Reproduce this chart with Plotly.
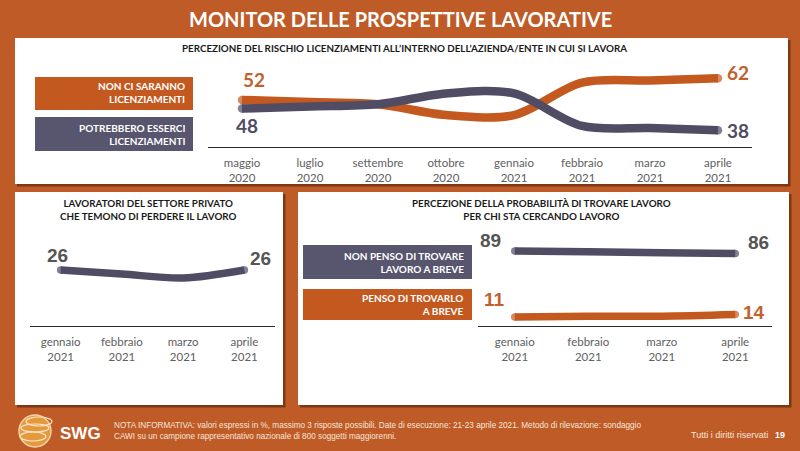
import plotly.graph_objects as go

W, H = 800, 451
ORANGE_BG = "#BE5B27"
ORANGE = "#C4591F"
GRAY = "#4F4C64"
GRAYBOX = "#58556E"
TXT = "#606060"
FONT = "Lato"

# ---------------- data ----------------
months_top = ["maggio<br>2020", "luglio<br>2020", "settembre<br>2020", "ottobre<br>2020",
              "gennaio<br>2021", "febbraio<br>2021", "marzo<br>2021", "aprile<br>2021"]
non_ci_saranno = [52, 51, 50, 45, 45, 60, 61, 62]
potrebbero_esserci = [48, 49, 50, 55, 55, 40, 39, 38]

months_bottom = ["gennaio<br>2021", "febbraio<br>2021", "marzo<br>2021", "aprile<br>2021"]
privati_temono = [26, 25, 24, 26]

non_penso = [89, 88, 87, 86]
penso = [11, 12, 12, 14]

# ---------------- helpers ----------------
def px(x):
    return x / W

def py(y):
    return 1 - y / H

def rect(x0, y0, x1, y1, color, layer="below"):
    return dict(type="rect", xref="paper", yref="paper", x0=px(x0), x1=px(x1),
                y0=py(y1), y1=py(y0), fillcolor=color, line_width=0, layer=layer)

def text(x, y, s, size, color="white", bold=False, xanchor="center", align="center", family=FONT):
    if bold:
        s = "<b>" + s.replace("<br>", "</b><br><b>") + "</b>"
    return dict(x=px(x), y=py(y), xref="paper", yref="paper", text=s, showarrow=False,
                xanchor=xanchor, yanchor="middle", align=align,
                font=dict(size=size, color=color, family=family))

def endsizes(n, s):
    return [s] + [0] * (n - 2) + [s]

fig = go.Figure()

def add_line(xs, ys, color, width, xa, ya):
    fig.add_trace(go.Scatter(
        x=xs, y=ys, mode="lines+markers", xaxis=xa, yaxis=ya,
        line=dict(color=color, width=width, shape="spline", smoothing=0.9),
        marker=dict(size=endsizes(len(ys), width), color=color, line_width=0),
        cliponaxis=False, hoverinfo="skip", showlegend=False))

add_line(months_top, non_ci_saranno, ORANGE, 8.5, "x", "y")
add_line(months_top, potrebbero_esserci, GRAY, 8.5, "x", "y")
add_line(months_bottom, privati_temono, GRAY, 7.5, "x2", "y2")
add_line(months_bottom, non_penso, GRAY, 7.5, "x3", "y3")
add_line(months_bottom, penso, ORANGE, 7.5, "x3", "y3")

shapes = []
# panel shadows + panels
for (x0, y0, x1, y1) in [(15, 38, 788, 184), (15, 192, 283, 405), (298, 192, 789, 405)]:
    shapes.append(rect(x0 + 2, y0 + 2, x1 + 2.5, y1 + 2.5, "rgba(70,25,5,0.55)"))
    shapes.append(rect(x0, y0, x1, y1, "white"))
# legend boxes
shapes.append(rect(35, 77, 193, 110, ORANGE))
shapes.append(rect(35, 117, 193, 151, GRAYBOX))
shapes.append(rect(303, 245, 472, 279, GRAYBOX))
shapes.append(rect(303, 289, 472, 320, ORANGE))
# logo
shapes.append(dict(type="circle", xref="paper", yref="paper",
                   x0=px(19), x1=px(51), y0=py(447), y1=py(415),
                   fillcolor="#E49A3C", line=dict(color="#F6D3A8", width=1.5), layer="above"))
for (a, b, c, d) in [(21, 424, 49, 432), (20, 432, 46, 441), (26, 417, 52, 426)]:
    shapes.append(dict(type="circle", xref="paper", yref="paper",
                       x0=px(a), x1=px(c), y0=py(d), y1=py(b),
                       fillcolor="rgba(0,0,0,0)", line=dict(color="#FBE3C6", width=1.2),
                       layer="above"))

ann = []
ann.append(text(400, 19, "MONITOR DELLE PROSPETTIVE LAVORATIVE", 20, bold=True))
ann.append(text(404, 48, "PERCEZIONE DEL RISCHIO LICENZIAMENTI ALL’INTERNO DELL’AZIENDA/ENTE IN CUI SI LAVORA",
                9.8, color="#1a1a1a", bold=True))
ann.append(text(148, 210, "LAVORATORI DEL SETTORE PRIVATO<br>CHE TEMONO DI PERDERE IL LAVORO",
                9.8, color="#1a1a1a", bold=True))
ann.append(text(541, 210, "PERCEZIONE DELLA PROBABILITÀ DI TROVARE LAVORO<br>PER CHI STA CERCANDO LAVORO",
                9.8, color="#1a1a1a", bold=True))
ann.append(text(187, 93, "NON CI SARANNO<br>LICENZIAMENTI", 10, bold=True, xanchor="right", align="right"))
ann.append(text(187, 134, "POTREBBERO ESSERCI<br>LICENZIAMENTI", 10, bold=True, xanchor="right", align="right"))
ann.append(text(466, 262, "NON PENSO DI TROVARE<br>LAVORO A BREVE", 10, bold=True, xanchor="right", align="right"))
ann.append(text(466, 304, "PENSO DI TROVARLO<br>A BREVE", 10, bold=True, xanchor="right", align="right"))

# value labels (anchored to data)
def vlabel(xa, ya, xv, yv, color, xshift, yshift, xanchor, family, size):
    ann.append(dict(x=xv, y=yv, xref=xa, yref=ya, text="<b>%d</b>" % yv, showarrow=False,
                    xanchor=xanchor, yanchor="middle", xshift=xshift, yshift=yshift,
                    font=dict(size=size, color=color, family=family)))

vlabel("x", "y", months_top[0], non_ci_saranno[0], "#C0622F", 12, 20, "center", FONT, 19)
vlabel("x", "y", months_top[0], potrebbero_esserci[0], GRAY, 5, -17, "center", FONT, 19)
vlabel("x", "y", months_top[-1], non_ci_saranno[-1], "#C0622F", 7, 6, "left", FONT, 19)
vlabel("x", "y", months_top[-1], potrebbero_esserci[-1], GRAY, 7, 0, "left", FONT, 19)
AR = "Liberation Sans"
vlabel("x2", "y2", months_bottom[0], privati_temono[0], "#555555", -3, 15, "center", AR, 19)
vlabel("x2", "y2", months_bottom[-1], privati_temono[-1], "#555555", 4, 12, "left", AR, 19)
vlabel("x3", "y3", months_bottom[0], non_penso[0], "#555555", -12, 10, "right", AR, 19)
vlabel("x3", "y3", months_bottom[-1], non_penso[-1], "#555555", 11, 11, "left", AR, 19)
vlabel("x3", "y3", months_bottom[0], penso[0], "#C0622F", -8, 18, "right", AR, 19)
vlabel("x3", "y3", months_bottom[-1], penso[-1], "#C0622F", 6, 2, "left", AR, 19)

# footer
ann.append(text(80, 433, "SWG", 17, bold=True, family="Liberation Sans"))
ann.append(dict(x=px(112), y=py(431), xref="paper", yref="paper", showarrow=False,
                xanchor="left", yanchor="middle", align="left",
                text="NOTA INFORMATIVA: valori espressi in %, massimo 3 risposte possibili. Date di esecuzione: 21-23 aprile 2021. Metodo di rilevazione: sondaggio<br>CAWI su un campione rappresentativo nazionale di 800 soggetti maggiorenni.",
                font=dict(size=8.2, color="#F8E6DA", family="Liberation Sans Narrow, Liberation Sans")))
ann.append(text(729, 435, "Tutti i diritti riservati", 9, color="#F8E6DA",
                family="Liberation Sans Narrow, Liberation Sans"))
ann.append(text(780, 435, "19", 9, color="white", bold=True, family="Liberation Sans"))

axis_common = dict(showgrid=False, zeroline=False, showline=True, linecolor="#2a2a2a",
                   linewidth=1.3, ticks="", tickfont=dict(size=11.5, color=TXT, family=FONT),
                   fixedrange=True, ticklabelstandoff=5)
yaxis_common = dict(visible=False, fixedrange=True)

fig.update_layout(
    width=W, height=H, margin=dict(l=0, r=0, t=0, b=0),
    paper_bgcolor=ORANGE_BG, plot_bgcolor="rgba(0,0,0,0)",
    shapes=shapes, annotations=ann, showlegend=False,
    xaxis=dict(domain=[px(208), px(752)], range=[-0.5, 7.5], anchor="y", **axis_common),
    yaxis=dict(domain=[py(147), py(60)], range=[30.3, 70.4], anchor="x", **yaxis_common),
    xaxis2=dict(domain=[px(30), px(275)], range=[-0.5, 3.5], anchor="y2", **axis_common),
    yaxis2=dict(domain=[py(326), py(240)], range=[12, 33.5], anchor="x2", **yaxis_common),
    xaxis3=dict(domain=[px(478), px(772)], range=[-0.5, 3.5], anchor="y3", **axis_common),
    yaxis3=dict(domain=[py(326), py(235)], range=[0.36, 107.9], anchor="x3", **yaxis_common),
)

fig.write_html("out.html")
